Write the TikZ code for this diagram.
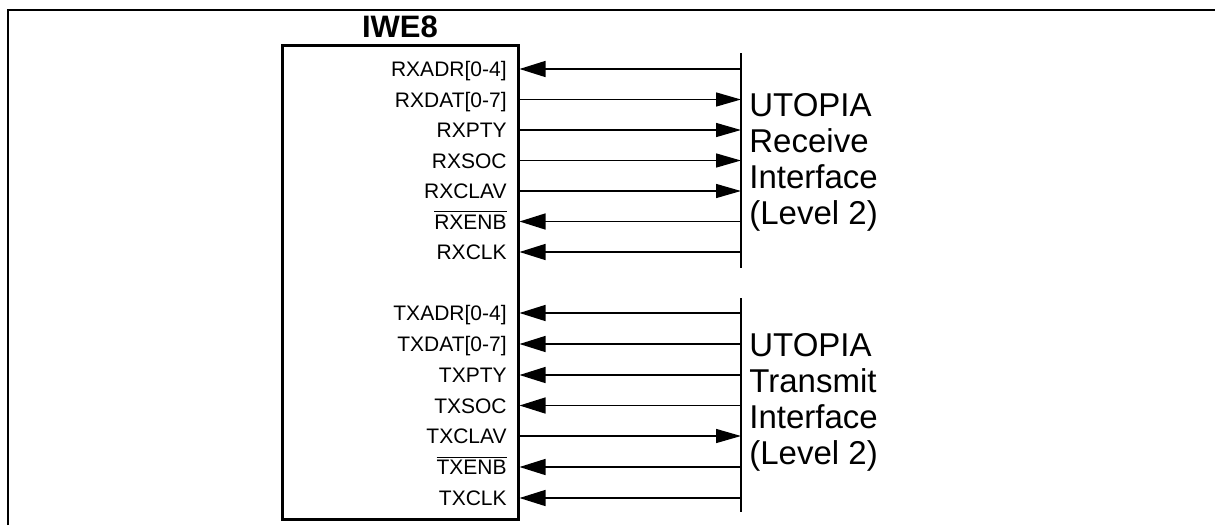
\documentclass[tikz,border=0pt]{standalone}
\usepackage{fontspec}
\setmainfont{Liberation Sans}
\usetikzlibrary{arrows.meta,positioning}

\begin{document}
\begin{tikzpicture}[
    x=0.5pt, y=-0.5pt,
    pin/.style      = {anchor=base east, inner sep=0pt, font=\fontsize{10.5}{12}\selectfont},
    bus/.style      = {line width=0.7pt},
    tochip/.style   = {bus, {Triangle[length=13pt,width=8pt]}-},
    fromchip/.style = {bus, -{Triangle[length=12.5pt,width=7pt]}},
    bar/.style      = {line width=0.7pt},
    side/.style     = {anchor=base west, align=left, inner sep=0pt, font=\fontsize{16.5}{18}\selectfont},
]
\useasboundingbox (0,0) rectangle (1215,525);
\draw [line width=1pt] (8,525) -- (8,10) -- (1215,10);

\node [draw, line width=1.5pt, inner sep=0pt, minimum width=118pt, minimum height=237pt] (chip) at (400,282) {};
\node [above=2.75pt of chip, inner sep=0pt, font=\bfseries\fontsize{15.5}{18}\selectfont] (t) {IWE8};

% receive side
\coordinate (rt) at (741,53);
\coordinate (rb) at (741,268);
\draw [bar] (rt) -- (rb);
\coordinate (ra) at (741,69);
\coordinate (rd) at (741,99.5);
\coordinate (rp) at (741,130);
\coordinate (rs) at (741,160.5);
\coordinate (rc) at (741,191);
\coordinate (re) at (741,221.5);
\coordinate (rk) at (741,252);
\node [pin] (a) at (507,76.5)  {RXADR[0-4]};
\node [pin] (b) at (507,107)   {RXDAT[0-7]};
\node [pin] (c) at (507,137.5) {RXPTY};
\node [pin] (d) at (507,168)   {RXSOC};
\node [pin] (e) at (507,198.5) {RXCLAV};
\node [pin] (f) at (507,229)   {\(\overline{\mbox{RXENB}}\)};
\node [pin] (g) at (507,259.5) {RXCLK};
\draw [tochip]   (chip.east |- ra) -- (ra);
\draw [fromchip] (chip.east |- rd) -- (rd);
\draw [fromchip] (chip.east |- rp) -- (rp);
\draw [fromchip] (chip.east |- rs) -- (rs);
\draw [fromchip] (chip.east |- rc) -- (rc);
\draw [tochip]   (chip.east |- re) -- (re);
\draw [tochip]   (chip.east |- rk) -- (rk);
\node [side] (u) at (749,224) {UTOPIA\\Receive\\Interface\\(Level 2)};

% transmit side
\coordinate (tt) at (741,298);
\coordinate (tb) at (741,512);
\draw [bar] (tt) -- (tb);
\coordinate (ta) at (741,313);
\coordinate (td) at (741,344);
\coordinate (tp) at (741,375);
\coordinate (ts) at (741,405.5);
\coordinate (tc) at (741,436);
\coordinate (te) at (741,467);
\coordinate (tk) at (741,498);
\node [pin] (h) at (507,320.5) {TXADR[0-4]};
\node [pin] (i) at (507,351.5) {TXDAT[0-7]};
\node [pin] (j) at (507,382.5) {TXPTY};
\node [pin] (k) at (507,413)   {TXSOC};
\node [pin] (l) at (507,443.5) {TXCLAV};
\node [pin] (m) at (507,474.5) {\(\overline{\mbox{TXENB}}\)};
\node [pin] (n) at (507,505.5) {TXCLK};
\draw [tochip]   (chip.east |- ta) -- (ta);
\draw [tochip]   (chip.east |- td) -- (td);
\draw [tochip]   (chip.east |- tp) -- (tp);
\draw [tochip]   (chip.east |- ts) -- (ts);
\draw [fromchip] (chip.east |- tc) -- (tc);
\draw [tochip]   (chip.east |- te) -- (te);
\draw [tochip]   (chip.east |- tk) -- (tk);
\node [side] (v) at (749,464) {UTOPIA\\Transmit\\Interface\\(Level 2)};
\end{tikzpicture}
\end{document}
